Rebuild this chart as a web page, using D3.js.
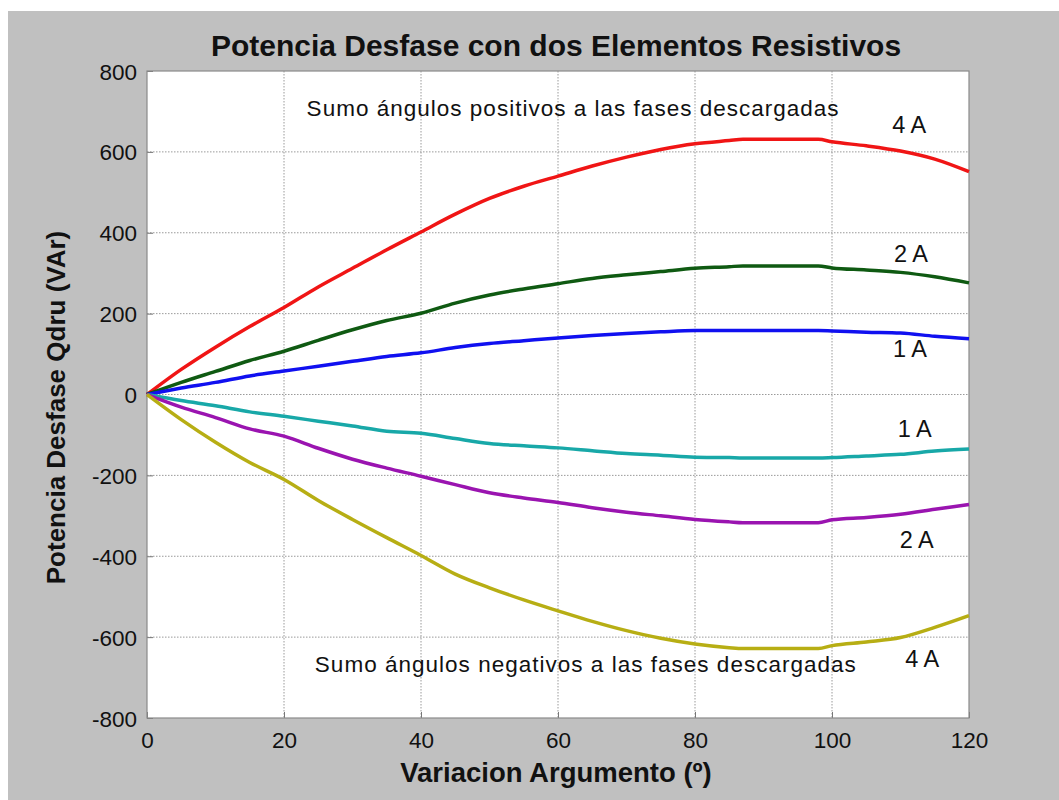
<!DOCTYPE html>
<html>
<head>
<meta charset="utf-8">
<script src="https://cdn.jsdelivr.net/npm/d3@7"></script>
<style>
  html, body { margin: 0; padding: 0; background: #ffffff; }
  svg { display: block; font-family: "Liberation Sans", Arial, sans-serif; }
</style>
</head>
<body>
<svg id="chart" width="1059" height="800"></svg>
<script>
// Reactive power vs. phase-angle variation, two resistive elements
const angles = [0, 5, 10, 15, 20, 25, 30, 35, 40, 45, 50, 55, 60, 65, 70, 75, 80, 85, 87, 92, 98, 100, 105, 110, 115, 120];
const pos4A = [0, 62, 117, 168, 215, 266, 312, 358, 402, 446, 485, 515, 540, 565, 587, 606, 620, 628, 631, 631, 631, 625, 615, 602, 582, 551];
const pos2A = [0, 30, 57, 84, 107, 134, 160, 183, 201, 226, 246, 261, 274, 287, 296, 304, 312, 316, 318, 318, 318, 313, 308, 302, 291, 276];
const pos1A = [0, 16, 30, 46, 58, 70, 82, 94, 103, 116, 126, 133, 140, 146, 151, 155, 158, 158, 158, 158, 158, 157, 154, 152, 144, 138];
const neg1A = [0, -15, -28, -43, -54, -66, -78, -91, -96, -109, -121, -127, -132, -139, -146, -150, -155, -156, -157, -157, -157, -156, -152, -148, -140, -135];
const neg2A = [0, -31, -57, -85, -103, -133, -160, -182, -202, -223, -243, -256, -267, -280, -291, -300, -309, -315, -317, -317, -317, -310, -304, -296, -284, -272];
const neg4A = [0, -62, -118, -168, -210, -262, -309, -354, -398, -444, -478, -508, -535, -561, -584, -603, -617, -626, -628, -628, -628, -621, -612, -601, -576, -547];

const seriesNames = ["4 A", "2 A", "1 A", "1 A", "2 A", "4 A"];
const seriesColors = ["#f01515", "#0f5a12", "#1010f0", "#18a8a8", "#9a14b0", "#b7ae14"];
const seriesValues = [pos4A, pos2A, pos1A, neg1A, neg2A, neg4A];

const xTicks = [0, 20, 40, 60, 80, 100, 120];
const yTicks = [-800, -600, -400, -200, 0, 200, 400, 600, 800];

const titleText = "Potencia Desfase con dos Elementos Resistivos";
const xLabelText = "Variacion Argumento (º)";
const yLabelText = "Potencia Desfase Qdru (VAr)";
const notePositive = "Sumo ángulos positivos a las fases descargadas";
const noteNegative = "Sumo ángulos negativos a las fases descargadas";

const svg = d3.select("#chart");

// figure background
svg.append("rect").attr("x", 8).attr("y", 11).attr("width", 1051).attr("height", 789).attr("fill", "#c0c0c0");

const plot = { left: 147, right: 969, top: 71, bottom: 718 };
const x = d3.scaleLinear().domain([0, 120]).range([plot.left, plot.right]);
const y = d3.scaleLinear().domain([-800, 800]).range([plot.bottom, plot.top]);

svg.append("rect")
  .attr("x", plot.left).attr("y", plot.top)
  .attr("width", plot.right - plot.left).attr("height", plot.bottom - plot.top)
  .attr("fill", "#ffffff");

// grid
const grid = svg.append("g");
grid.selectAll("line.gx").data(xTicks.slice(1, -1)).join("line")
  .attr("x1", d => x(d)).attr("x2", d => x(d))
  .attr("y1", plot.top).attr("y2", plot.bottom)
  .attr("stroke", "#808080").attr("stroke-width", 0.8).attr("stroke-dasharray", "1.5,1.5");
grid.selectAll("line.gy").data(yTicks.slice(1, -1)).join("line")
  .attr("y1", d => y(d)).attr("y2", d => y(d))
  .attr("x1", plot.left).attr("x2", plot.right)
  .attr("stroke", "#808080").attr("stroke-width", 0.8).attr("stroke-dasharray", "1.5,1.5");

// axes
const xAxis = d3.axisBottom(x).tickValues(xTicks).tickSize(-6).tickPadding(14).tickFormat(d => String(d));
const yAxis = d3.axisLeft(y).tickValues(yTicks).tickSize(-6).tickPadding(10).tickFormat(d => String(d));

const gx = svg.append("g").attr("transform", `translate(0,${plot.bottom})`).call(xAxis);
const gy = svg.append("g").attr("transform", `translate(${plot.left},0)`).call(yAxis);
[gx, gy].forEach(g => {
  g.select(".domain").remove();
  g.selectAll(".tick line").attr("stroke", "#777");
  g.selectAll(".tick text").attr("fill", "#111").style("font-size", "22.5px").style("font-family", "Liberation Sans, Arial, sans-serif");
});
gx.selectAll(".tick text").attr("dy", "0.71em");
gy.selectAll(".tick text").attr("dy", "0.36em");

// plot frame
svg.append("rect")
  .attr("x", plot.left).attr("y", plot.top)
  .attr("width", plot.right - plot.left).attr("height", plot.bottom - plot.top)
  .attr("fill", "none").attr("stroke", "#8a8a8a").attr("stroke-width", 1.2);

// curves
const line = d3.line().x((d, i) => x(angles[i])).y(d => y(d)).curve(d3.curveMonotoneX);
svg.append("g").selectAll("path").data(seriesValues).join("path")
  .attr("d", d => line(d))
  .attr("fill", "none")
  .attr("stroke", (d, i) => seriesColors[i])
  .attr("stroke-width", 3.5)
  .attr("stroke-linejoin", "round");

// curve labels
const labelPos = [[108.8, 647], [109.05, 328], [108.9, 93], [109.6, -105], [109.9, -380], [110.7, -674]];
svg.append("g").selectAll("text").data(seriesNames).join("text")
  .attr("x", (d, i) => x(labelPos[i][0]))
  .attr("y", (d, i) => y(labelPos[i][1]))
  .attr("font-size", 23.5).attr("fill", "#111")
  .text(d => d);

// notes
svg.append("text").attr("x", x(23.3)).attr("y", y(688)).attr("font-size", 22.5).attr("fill", "#111")
  .attr("textLength", 532).attr("lengthAdjust", "spacing").text(notePositive);
svg.append("text").attr("x", x(24.5)).attr("y", y(-687)).attr("font-size", 22.5).attr("fill", "#111")
  .attr("textLength", 541).attr("lengthAdjust", "spacing").text(noteNegative);

// titles
svg.append("text").attr("x", 556).attr("y", 56).attr("text-anchor", "middle")
  .attr("font-size", 30).attr("font-weight", "bold").attr("fill", "#111").text(titleText);
svg.append("text").attr("x", 556).attr("y", 782).attr("text-anchor", "middle")
  .attr("font-size", 27.5).attr("font-weight", "bold").attr("fill", "#111").text(xLabelText);
svg.append("text").attr("transform", `translate(65,${(plot.top + plot.bottom) / 2 + 13}) rotate(-90)`)
  .attr("text-anchor", "middle")
  .attr("font-size", 26).attr("font-weight", "bold").attr("fill", "#111").text(yLabelText);
</script>
</body>
</html>
